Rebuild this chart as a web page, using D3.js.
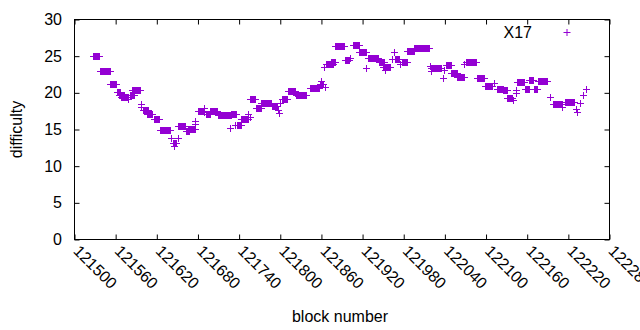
<!DOCTYPE html>
<html>
<head>
<meta charset="utf-8">
<script src="https://cdn.jsdelivr.net/npm/d3@7"></script>
<style>
    body { margin: 0; background: #fff; }
    text { font-family: "Liberation Sans", Arial, sans-serif; font-size: 16px; fill: #000; }
</style>
</head>
<body>
<div id="chart"></div>
<script>

//runs of blocks that share the same difficulty (single blocks have start == end)
const runStart = [121528, 121538, 121553, 121563, 121566, 121569, 121579, 121581, 121585, 121597,
    121598, 121600, 121606, 121616, 121625, 121641, 121644, 121646, 121652, 121651,
    121663, 121666, 121676, 121677, 121681, 121689, 121690, 121692, 121698, 121710,
    121729, 121727, 121735, 121738, 121743, 121753, 121756, 121757, 121765, 121773,
    121788, 121798, 121799, 121800, 121803, 121812, 121822, 121823, 121844, 121859,
    121860, 121866, 121865, 121867, 121875, 121881, 121895, 121903, 121907, 121916,
    121925, 121929, 121944, 121951, 121954, 121963, 121966, 121968, 121976, 121978,
    121985, 121995, 122019, 122020, 122021, 122038, 122040, 122043, 122050, 122059,
    122069, 122071, 122087, 122099, 122113, 122116, 122125, 122132, 122140, 122144,
    122145, 122146, 122158, 122164, 122170, 122176, 122194, 122198, 122211, 122216,
    122232, 122234, 122238, 122242, 122246];

const runEnd = [121536, 121552, 121561, 121567, 121573, 121578, 121579, 121587, 121596, 121597,
    121598, 121608, 121614, 121624, 121640, 121641, 121648, 121646, 121652, 121662,
    121667, 121677, 121676, 121677, 121689, 121689, 121690, 121698, 121709, 121729,
    121736, 121727, 121735, 121743, 121754, 121753, 121756, 121764, 121772, 121787,
    121796, 121798, 121799, 121800, 121811, 121822, 121822, 121838, 121857, 121863,
    121860, 121866, 121865, 121877, 121881, 121894, 121901, 121903, 121915, 121926,
    121925, 121943, 121952, 121961, 121954, 121963, 121966, 121974, 121976, 121985,
    121995, 122017, 122019, 122020, 122035, 122038, 122040, 122049, 122059, 122069,
    122069, 122086, 122098, 122110, 122113, 122125, 122131, 122139, 122140, 122144,
    122145, 122156, 122164, 122169, 122175, 122190, 122194, 122212, 122211, 122229,
    122232, 122234, 122238, 122242, 122246];

const runDifficulty = [25.0, 22.9, 21.1, 20.1, 19.7, 19.4, 19.1, 19.6, 20.3, 18.4,
    18.0, 17.6, 17.1, 16.3, 14.8, 13.8, 13.1, 12.7, 13.8, 15.4,
    14.7, 15.0, 16.1, 15.7, 17.4, 17.3, 17.9, 17.0, 17.4, 16.85,
    17.05, 15.1, 15.5, 15.5, 16.3, 17.1, 16.6, 19.1, 17.8, 18.5,
    18.2, 17.6, 17.2, 18.5, 19.1, 20.2, 19.9, 19.6, 20.6, 21.1,
    21.5, 20.7, 23.5, 23.8, 24.2, 26.3, 24.4, 24.7, 26.5, 25.5,
    23.3, 24.7, 24.2, 23.5, 23.0, 24.6, 25.5, 24.5, 23.9, 24.1,
    25.6, 26.0, 23.6, 22.9, 23.3, 21.9, 23.0, 23.7, 22.6, 22.1,
    23.8, 24.1, 21.9, 20.8, 21.3, 20.5, 20.3, 19.2, 19.0, 20.3,
    19.9, 21.4, 20.5, 21.7, 20.5, 21.5, 19.3, 18.4, 18.0, 18.7,
    17.7, 17.3, 18.6, 19.6, 20.5];

const xTicks = [121500, 121560, 121620, 121680, 121740, 121800, 121860, 121920, 121980,
    122040, 122100, 122160, 122220, 122280];
const yTicks = [0, 5, 10, 15, 20, 25, 30];
const seriesName = "X17";

class DifficultyPlot {

    constructor(_parentElement) {
        this.parentElement = _parentElement;
        this.initVis();
    }

    initVis() {
        let vis = this;

        vis.width = 640;
        vis.height = 330;
        vis.plot = {left: 74.5, right: 609.5, top: 19.5, bottom: 239.5};
        vis.color = "#9400d3";

        vis.svg = d3.select("#" + vis.parentElement).append("svg")
            .attr("width", vis.width)
            .attr("height", vis.height);

        vis.x = d3.scaleLinear()
            .domain([xTicks[0], xTicks[xTicks.length - 1]])
            .range([vis.plot.left, vis.plot.right]);

        vis.y = d3.scaleLinear()
            .domain([0, 30])
            .range([vis.plot.bottom, vis.plot.top]);

        //axes with ticks inside the frame, mirrored on top and right
        vis.svg.append("g")
            .attr("class", "x-axis")
            .attr("transform", "translate(0," + vis.plot.bottom + ")")
            .call(d3.axisTop(vis.x).tickValues(xTicks).tickSize(5).tickFormat(""));
        vis.svg.append("g")
            .attr("transform", "translate(0," + vis.plot.top + ")")
            .call(d3.axisBottom(vis.x).tickValues(xTicks).tickSize(5).tickFormat(""));
        vis.svg.append("g")
            .attr("transform", "translate(" + vis.plot.left + ",0)")
            .call(d3.axisRight(vis.y).tickValues(yTicks).tickSize(5).tickFormat(""));
        vis.svg.append("g")
            .attr("transform", "translate(" + vis.plot.right + ",0)")
            .call(d3.axisLeft(vis.y).tickValues(yTicks).tickSize(5).tickFormat(""));
        vis.svg.selectAll(".domain").remove();
        vis.svg.selectAll(".tick line").attr("stroke", "#000");

        //tick labels
        vis.svg.selectAll(".ylab")
            .data(yTicks)
            .enter().append("text")
            .attr("class", "ylab")
            .attr("x", 62)
            .attr("y", d => vis.y(d) + 5.5)
            .attr("text-anchor", "end")
            .text(d => d);

        vis.svg.selectAll(".xlab")
            .data(xTicks)
            .enter().append("text")
            .attr("class", "xlab")
            .attr("transform", d => "translate(" + (vis.x(d) - 2) + ",252) rotate(45)")
            .text(d => d);

        //frame
        vis.svg.append("rect")
            .attr("x", vis.plot.left)
            .attr("y", vis.plot.top)
            .attr("width", vis.plot.right - vis.plot.left)
            .attr("height", vis.plot.bottom - vis.plot.top)
            .attr("fill", "none")
            .attr("stroke", "#000");

        //axis titles
        vis.svg.append("text")
            .attr("x", 340)
            .attr("y", 322)
            .attr("text-anchor", "middle")
            .text("block number");

        vis.svg.append("text")
            .attr("transform", "translate(22," + ((vis.plot.top + vis.plot.bottom) / 2) + ") rotate(-90)")
            .attr("text-anchor", "middle")
            .text("difficulty");

        //key
        vis.svg.append("text")
            .attr("x", 532)
            .attr("y", 38)
            .attr("text-anchor", "end")
            .text(seriesName);

        vis.plus = "M-3.5,0H3.5M0,-3.5V3.5";

        vis.svg.append("path")
            .attr("d", vis.plus)
            .attr("transform", "translate(567,32.5)")
            .attr("stroke", vis.color)
            .attr("fill", "none");

        vis.wrangleData();
    }

    wrangleData() {
        let vis = this;

        //one point per block in every run
        vis.points = [];
        for (let i = 0; i < runStart.length; i++) {
            for (let b = runStart[i]; b <= runEnd[i]; b++) {
                vis.points.push({block: b, difficulty: runDifficulty[i]});
            }
        }

        vis.updateVis();
    }

    updateVis() {
        let vis = this;

        vis.svg.append("g")
            .attr("shape-rendering", "crispEdges")
            .selectAll(".pt")
            .data(vis.points)
            .enter().append("path")
            .attr("class", "pt")
            .attr("d", vis.plus)
            .attr("transform", d => "translate(" + vis.x(d.block) + "," + vis.y(d.difficulty) + ")")
            .attr("stroke", vis.color)
            .attr("fill", "none");
    }
}

new DifficultyPlot("chart");

</script>
</body>
</html>
